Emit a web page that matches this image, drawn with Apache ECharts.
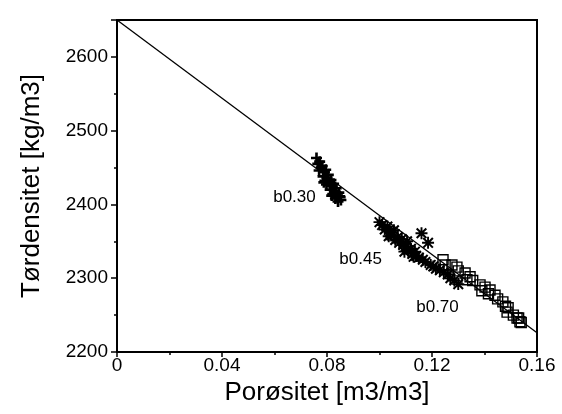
<!DOCTYPE html>
<html>
<head>
<meta charset="utf-8">
<script src="https://cdn.jsdelivr.net/npm/echarts@6/dist/echarts.min.js"></script>
<style>
  html, body { margin: 0; padding: 0; background: #fff; }
  #chart { width: 562px; height: 414px; }
</style>
</head>
<body>
<div id="chart"></div>
<script>
// Porosity [m3/m3] and dry density [kg/m3] per mix
const b030Porosity = [0.0760, 0.0765, 0.0772, 0.0778, 0.0770, 0.0782, 0.0790, 0.0785, 0.0795, 0.0800,
                      0.0792, 0.0805, 0.0810, 0.0798, 0.0815, 0.0820, 0.0812, 0.0825, 0.0830, 0.0822,
                      0.0835, 0.0840, 0.0845, 0.0832, 0.0850, 0.0853, 0.0842, 0.0848, 0.0788, 0.0818];
const b030Density  = [2463, 2455, 2458, 2450, 2446, 2452, 2444, 2438, 2447, 2436,
                      2432, 2440, 2430, 2427, 2433, 2425, 2420, 2428, 2418, 2414,
                      2422, 2412, 2416, 2408, 2410, 2406, 2404, 2411, 2430, 2412];

const b045Porosity = [0.1000, 0.1010, 0.1020, 0.1030, 0.1040, 0.1045, 0.1055, 0.1060, 0.1070, 0.1075,
                      0.1085, 0.1090, 0.1100, 0.1105, 0.1110, 0.1120, 0.1125, 0.1135, 0.1140, 0.1150,
                      0.1160, 0.1165, 0.1175, 0.1185, 0.1195, 0.1205, 0.1215, 0.1230, 0.1245, 0.1260,
                      0.1270, 0.1285, 0.1300, 0.1035, 0.1095, 0.1130];
const b045Density  = [2376, 2372, 2366, 2370, 2362, 2358, 2365, 2352, 2356, 2348,
                      2353, 2345, 2343, 2350, 2338, 2340, 2333, 2336, 2330, 2328,
                      2361, 2325, 2322, 2348, 2318, 2316, 2313, 2311, 2308, 2305,
                      2300, 2297, 2292, 2357, 2336, 2329];

const b070Porosity = [0.1242, 0.1250, 0.1276, 0.1295, 0.1300, 0.1326, 0.1345, 0.1333, 0.1355, 0.1383,
                      0.1390, 0.1402, 0.1415, 0.1421, 0.1440, 0.1450, 0.1470, 0.1480, 0.1490, 0.1486,
                      0.1510, 0.1524, 0.1530, 0.1535, 0.1540];
const b070Density  = [2325, 2318, 2318, 2315, 2310, 2307, 2302, 2298, 2297, 2291,
                      2283, 2288, 2279, 2284, 2277, 2272, 2268, 2262, 2260, 2254,
                      2250, 2246, 2246, 2241, 2240];

// Reference line: solid density at zero porosity down to the right edge
const solidLinePorosity = [0, 0.16];
const solidLineDensity  = [2650, 2226];

// Mix annotations
const mixLabels   = ['b0.30', 'b0.45', 'b0.70'];
const labelPorosity = [0.0676, 0.0928, 0.1221];
const labelDensity  = [2410, 2326, 2260];

const xTicks = [0, 0.04, 0.08, 0.12, 0.16];
const yTicks = [2200, 2300, 2400, 2500, 2600];

const zip = (a, b) => a.map((v, i) => [v, b[i]]);

const plusPath = 'path://M3.8 0h2.4v3.8h3.8v2.4h-3.8v3.8h-2.4v-3.8h-3.8v-2.4h3.8z';
const starPath = 'path://M0 4.2h10v1.6h-10zM4.2 0h1.6v10h-1.6zM0.4 1.6L1.6 0.4L9.6 8.4L8.4 9.6ZM8.4 0.4L9.6 1.6L1.6 9.6L0.4 8.4Z';

const FONT = 'Liberation Sans';

const chart = echarts.init(document.getElementById('chart'), null, { renderer: 'canvas' });
chart.setOption({
  animation: false,
  backgroundColor: '#fff',
  grid: {
    left: 117, right: 25, top: 20, bottom: 62,
    show: true, borderColor: '#000', borderWidth: 2, backgroundColor: 'transparent'
  },
  xAxis: {
    type: 'value',
    min: xTicks[0], max: xTicks[xTicks.length - 1], interval: 0.04,
    name: 'Porøsitet [m3/m3]',
    nameLocation: 'middle', nameGap: 27,
    nameTextStyle: { fontFamily: FONT, fontSize: 26, color: '#000' },
    axisLine: { show: true, lineStyle: { color: '#000', width: 2 } },
    axisTick: { show: true, inside: false, length: 5, lineStyle: { color: '#000', width: 1.5 } },
    minorTick: { show: true, splitNumber: 2, length: 3, lineStyle: { color: '#000', width: 1.5 } },
    splitLine: { show: false },
    axisLabel: { fontFamily: FONT, fontSize: 19, color: '#000', margin: 4,
                 formatter: v => String(+v.toFixed(2)), showMaxLabel: true, showMinLabel: true }
  },
  yAxis: [{
    type: 'value',
    min: 2200, max: 2650, interval: 100,
    name: 'Tørdensitet [kg/m3]',
    nameLocation: 'middle', nameGap: 72,
    nameTextStyle: { fontFamily: FONT, fontSize: 26, color: '#000' },
    axisLine: { show: true, lineStyle: { color: '#000', width: 2 } },
    axisTick: { show: true, inside: false, length: 6, lineStyle: { color: '#000', width: 1.5 } },
    splitLine: { show: false },
    axisLabel: { fontFamily: FONT, fontSize: 19, color: '#000', margin: 9,
                 formatter: v => (yTicks.includes(v) ? String(v) : '') }
  }, {
    // half-step ticks
    type: 'value', position: 'left', offset: 0,
    min: 2200, max: 2650, interval: 50,
    axisLine: { show: false },
    axisTick: { show: true, inside: false, length: 3, lineStyle: { color: '#000', width: 1.5 } },
    splitLine: { show: false },
    axisLabel: { show: false }
  }],
  series: [
    {
      type: 'line', name: 'solid',
      data: zip(solidLinePorosity, solidLineDensity),
      showSymbol: false, symbol: 'none',
      lineStyle: { color: '#000', width: 1.3 },
      z: 3
    },
    {
      type: 'scatter', name: 'b0.30',
      data: zip(b030Porosity, b030Density),
      symbol: plusPath, symbolSize: 11,
      itemStyle: { color: '#000', opacity: 1 }, z: 4
    },
    {
      type: 'scatter', name: 'b0.45',
      data: zip(b045Porosity, b045Density),
      symbol: starPath, symbolSize: 12,
      itemStyle: { color: '#000', opacity: 1 }, z: 4
    },
    {
      type: 'scatter', name: 'b0.70',
      data: zip(b070Porosity, b070Density),
      symbol: 'rect', symbolSize: 10,
      itemStyle: { color: 'rgba(255,255,255,0)', borderColor: '#000', borderWidth: 1.4, opacity: 1 }, z: 4
    },
    {
      type: 'scatter', name: 'labels',
      data: mixLabels.map((t, i) => ({ name: t, value: [labelPorosity[i], labelDensity[i]] })),
      symbolSize: 0, silent: true,
      itemStyle: { opacity: 1 },
      label: { show: true, position: 'inside', formatter: p => p.name,
               fontFamily: FONT, fontSize: 17, color: '#000', textBorderWidth: 0 },
      z: 5
    }
  ]
});
</script>
</body>
</html>
